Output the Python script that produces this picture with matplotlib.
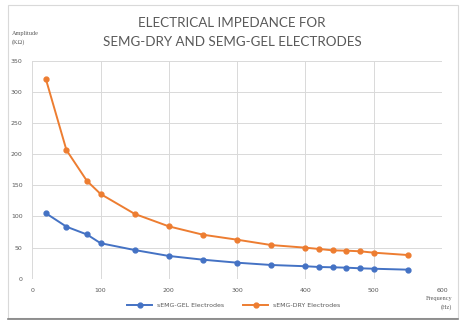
import matplotlib
matplotlib.use("Agg")
import matplotlib.pyplot as plt
from matplotlib.patches import Rectangle
from matplotlib.lines import Line2D

# dados
freq = [20, 50, 80, 100, 150, 200, 250, 300, 350, 400, 420, 440, 460, 480, 500, 550]
gel = [105, 83.5, 71, 57, 46, 36.5, 30.5, 25.7, 22, 20, 18.8, 18.3, 17.7, 16.7, 16, 14.5]
dry = [320, 206.5, 157, 136, 104, 84, 70.6, 62.6, 54, 49.8, 47.7, 45.5, 45, 44, 41.8, 38]
xticks = [0, 100, 200, 300, 400, 500, 600]
yticks = [0, 50, 100, 150, 200, 250, 300, 350]

azul = "#4472C4"
laranja = "#ED7D31"
cinza = "#595959"

fig = plt.figure(figsize=(4.64, 3.24), dpi=100)
fig.patch.set_facecolor("white")

# moldura do grafico
fig.patches.append(Rectangle((8 / 464, 1 - 318 / 324), 450 / 464, 313 / 324,
                             transform=fig.transFigure, fill=False,
                             edgecolor="#d9d9d9", linewidth=0.8))
fig.lines.append(Line2D([8 / 464, 458 / 464], [1 - 319 / 324] * 2,
                        transform=fig.transFigure, color="#7f7f7f", linewidth=1.2))

ax = fig.add_axes([32.3 / 464, 1 - 278.7 / 324, (442 - 32.3) / 464, (278.7 - 60.7) / 324])
ax.plot(freq, gel, color=azul, marker="o", markersize=3.5, linewidth=1.4,
        label="sEMG-GEL Electrodes")
ax.plot(freq, dry, color=laranja, marker="o", markersize=3.5, linewidth=1.4,
        label="sEMG-DRY Electrodes")

ax.set_xlim(0, 600)
ax.set_ylim(0, 350)
ax.set_xticks(xticks)
ax.set_yticks(yticks)
ax.grid(True, color="#d9d9d9", linewidth=0.7)
ax.set_axisbelow(True)
for s in ax.spines.values():
    s.set_visible(False)
ax.tick_params(length=0, labelsize=4.5, labelcolor=cinza, pad=7)

fig.text(0.5, 1 - 22.7 / 324, "ELECTRICAL IMPEDANCE FOR", ha="center", va="center",
         fontsize=9.6, family="Lato", color=cinza)
fig.text(0.5, 1 - 42 / 324, "SEMG-DRY AND SEMG-GEL ELECTRODES", ha="center", va="center",
         fontsize=9.6, family="Lato", color=cinza)

fig.text(12 / 464, 1 - 38 / 324, "Amplitude\n(KΩ)", ha="left", va="center",
         fontsize=4.5, family="Liberation Serif", color=cinza, linespacing=1.6)
fig.text(452 / 464, 1 - 303 / 324, "Frequency\n(Hz)", ha="right", va="center",
         fontsize=4.5, family="Liberation Serif", color=cinza, linespacing=1.6,
         multialignment="right")

ax.legend(loc="center", bbox_to_anchor=(234 / 464, 1 - 305 / 324),
          bbox_transform=fig.transFigure, ncol=2, frameon=False,
          fontsize=4.5, labelcolor=cinza, handlelength=4, columnspacing=3)

fig.savefig("out.png", dpi=100)
